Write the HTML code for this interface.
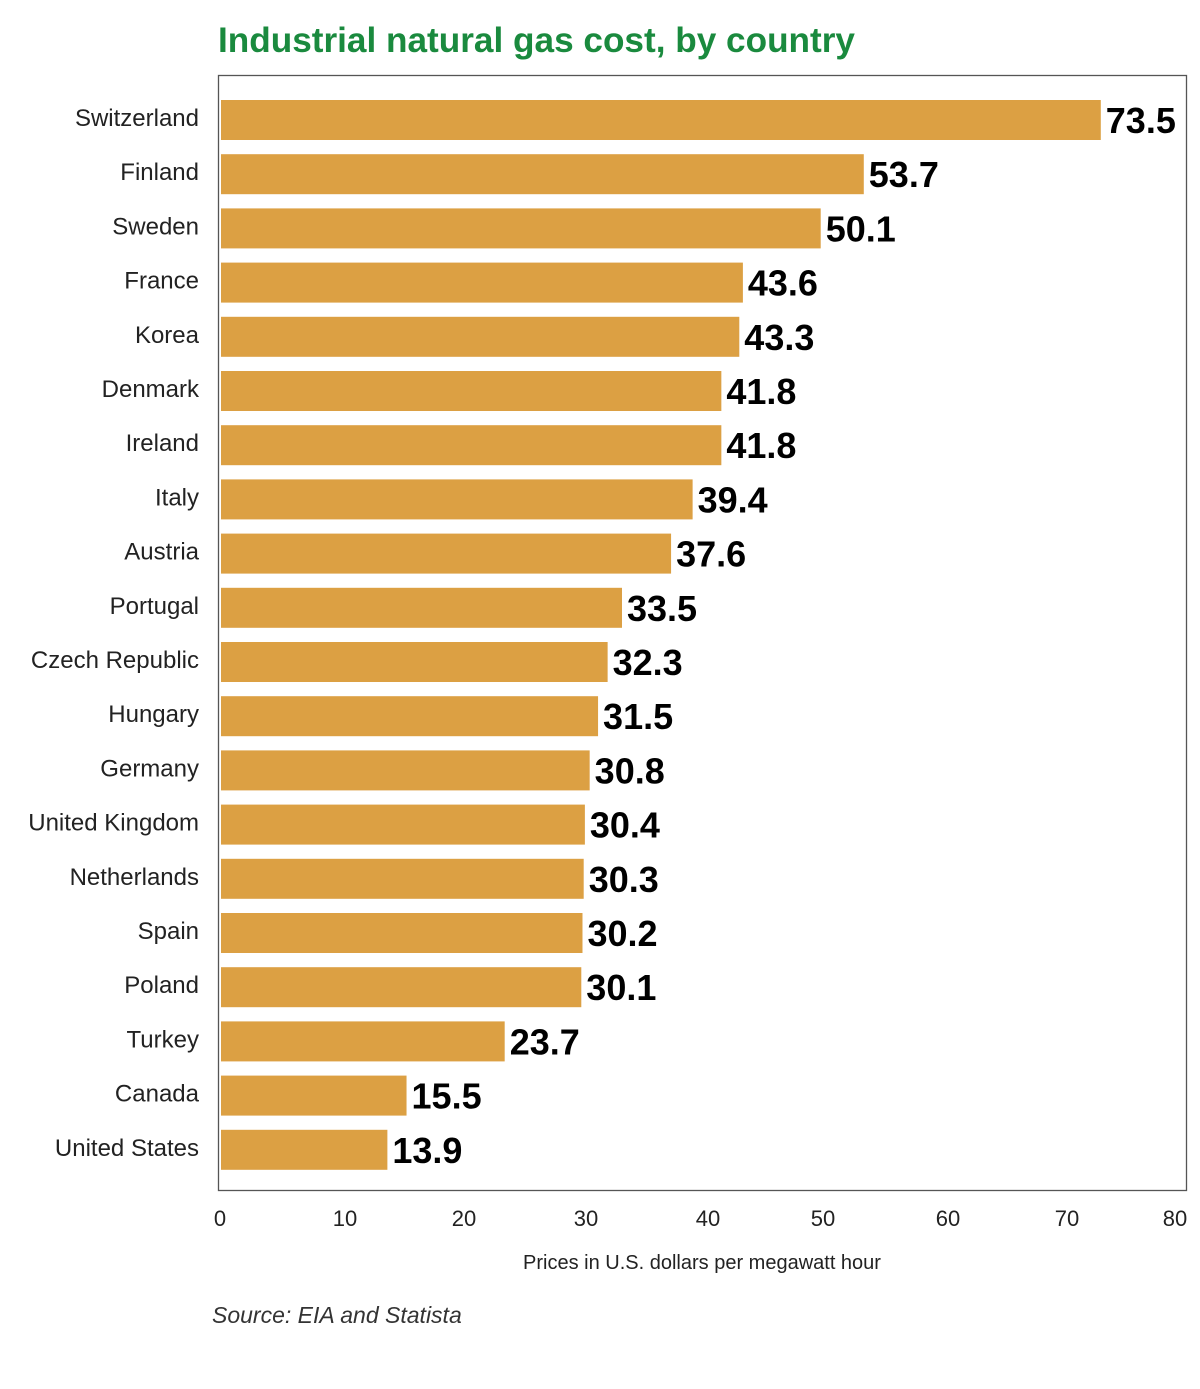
<!DOCTYPE html>
<html><head><style>body{margin:0;background:#fff}svg{display:block}</style></head><body>
<svg width="1200" height="1389" xmlns="http://www.w3.org/2000/svg" font-family="Liberation Sans, sans-serif">
<text x="218" y="52" font-size="35" font-weight="bold" fill="#1a8a3e" textLength="637" lengthAdjust="spacingAndGlyphs">Industrial natural gas cost, by country</text>
<rect x="218.5" y="75.5" width="968" height="1115" fill="none" stroke="#555" stroke-width="1.3"/>
<g id="bars" fill="#DCA043"></g>
<g id="lbl" font-size="24" fill="#222" text-anchor="end"></g>
<g id="val" font-size="36" font-weight="bold" fill="#000"></g>
<g font-size="22" fill="#222" text-anchor="middle">
<text x="220" y="1226">0</text><text x="345" y="1226">10</text><text x="464" y="1226">20</text><text x="586" y="1226">30</text><text x="708" y="1226">40</text><text x="823" y="1226">50</text><text x="948" y="1226">60</text><text x="1067" y="1226">70</text><text x="1175" y="1226">80</text>
</g>
<text x="702" y="1269" font-size="20" fill="#222" text-anchor="middle">Prices in U.S. dollars per megawatt hour</text>
<text x="212" y="1323" font-size="23" font-style="italic" fill="#333">Source: EIA and Statista</text>
<script>
var d=[["Switzerland",73.5],["Finland",53.7],["Sweden",50.1],["France",43.6],["Korea",43.3],["Denmark",41.8],["Ireland",41.8],["Italy",39.4],["Austria",37.6],["Portugal",33.5],["Czech Republic",32.3],["Hungary",31.5],["Germany",30.8],["United Kingdom",30.4],["Netherlands",30.3],["Spain",30.2],["Poland",30.1],["Turkey",23.7],["Canada",15.5],["United States",13.9]];
var ns="http://www.w3.org/2000/svg",b=document.getElementById("bars"),l=document.getElementById("lbl"),v=document.getElementById("val");
d.forEach(function(r,i){var y=100+i*54.2,w=r[1]*11.97;
var e=document.createElementNS(ns,"rect");e.setAttribute("x",221);e.setAttribute("y",y);e.setAttribute("width",w);e.setAttribute("height",40);b.appendChild(e);
var t=document.createElementNS(ns,"text");t.setAttribute("x",199);t.setAttribute("y",y+26);t.textContent=r[0];l.appendChild(t);
var u=document.createElementNS(ns,"text");u.setAttribute("x",221+w+5);u.setAttribute("y",y+33);u.textContent=r[1].toFixed(1);v.appendChild(u);});
</script>
</svg>
</body></html>
